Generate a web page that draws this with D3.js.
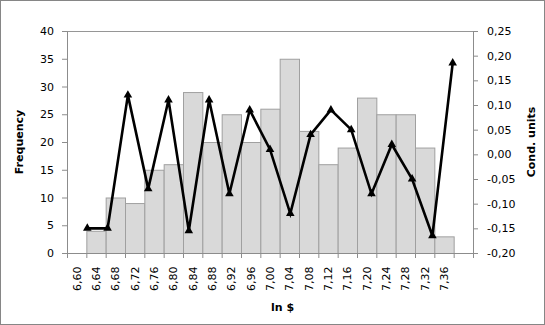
<!DOCTYPE html>
<html>
<head>
<meta charset="utf-8">
<script src="https://cdn.jsdelivr.net/npm/d3@7"></script>
<style>
  body { margin: 0; background: #fff; }
  svg text { font-family: "DejaVu Sans", sans-serif; fill: #000; }
</style>
</head>
<body>
<div id="vis"></div>
<script>
// categories on the x axis (the last slot has no label)
const categories = ["6,60","6,64","6,68","6,72","6,76","6,80","6,84","6,88","6,92","6,96",
                    "7,00","7,04","7,08","7,12","7,16","7,20","7,24","7,28","7,32","7,36",""];
// histogram frequencies
const frequency = [0,4,10,9,15,16,29,20,25,20,26,35,22,16,19,28,25,25,19,3,0];
// line series (cond. units), 19 points
const condUnits = [-0.15,-0.15,0.12,-0.07,0.11,-0.155,0.11,-0.08,0.09,0.01,
                   -0.12,0.04,0.09,0.05,-0.08,0.02,-0.05,-0.165,0.185];
const leftTicks = [0,5,10,15,20,25,30,35,40];
const rightTicks = [-0.20,-0.15,-0.10,-0.05,0.00,0.05,0.10,0.15,0.20,0.25];

const W = 545, H = 325;
const margin = {top: 31, right: 72, bottom: 72, left: 67},
    width = W - margin.left - margin.right,
    height = H - margin.top - margin.bottom;

const svg = d3.select("#vis").append("svg")
    .attr("width", W)
    .attr("height", H);

// outer chart border
svg.append("rect")
    .attr("x", 0.5).attr("y", 0.5)
    .attr("width", W - 1).attr("height", H - 1)
    .attr("fill", "#fff")
    .attr("stroke", "#868686");

const g = svg.append("g")
    .attr("transform", "translate(" + margin.left + "," + margin.top + ")");

// scales
const x = d3.scaleBand()
    .domain(d3.range(categories.length))
    .range([0, width])
    .padding(0);
const xEdge = d3.scaleLinear().domain([0, categories.length]).range([0, width]);
// the line sits on its own category axis (21 points, ends empty)
const x2 = d3.scalePoint()
    .domain(d3.range(condUnits.length + 2))
    .range([0, width]);

const y = d3.scaleLinear().domain([0, 40]).range([height, 0]);
const y2 = d3.scaleLinear().domain([-0.2, 0.25]).range([height, 0]);

const loc = d3.formatLocale({decimal: ",", thousands: " ", grouping: [3], currency: ["", ""], minus: "-"});
const fmt2 = loc.format(".2f");

// top border of plot area
g.append("line")
    .attr("x1", 0).attr("x2", width)
    .attr("y1", 0.5).attr("y2", 0.5)
    .attr("stroke", "#969696");

// bars
g.selectAll(".bar")
    .data(frequency.map((v, i) => ({i: i, v: v})).filter(d => d.v > 0))
  .enter().append("rect")
    .attr("class", "bar")
    .attr("x", d => x(d.i) + 0.5)
    .attr("width", x.bandwidth())
    .attr("y", d => y(d.v) + 0.5)
    .attr("height", d => height - y(d.v))
    .attr("fill", "#d9d9d9")
    .attr("stroke", "#a0a0a0")
    .attr("stroke-width", 1);

// left axis
const axL = g.append("g")
    .call(d3.axisLeft(y).tickValues(leftTicks).tickSize(5).tickPadding(8));
axL.selectAll("text").style("font-size", "11px");

// right axis
const axR = g.append("g")
    .attr("transform", "translate(" + width + ",0)")
    .call(d3.axisRight(y2).tickValues(rightTicks).tickSize(5).tickPadding(9).tickFormat(fmt2));
axR.selectAll("text").style("font-size", "11px");

// bottom axis: ticks at category edges, labels at centres
const axB = g.append("g")
    .attr("transform", "translate(0," + height + ")")
    .call(d3.axisBottom(xEdge).tickValues(d3.range(categories.length + 1)).tickSize(5).tickFormat(""));

g.append("g")
    .selectAll("text")
    .data(categories)
  .enter().append("text")
    .attr("transform", (d, i) => "translate(" + (x(i) + x.bandwidth() / 2) + "," + (height + 13.5) + ") rotate(-90)")
    .attr("text-anchor", "end")
    .attr("dy", "0.35em")
    .style("font-size", "11px")
    .text(d => d);

[axL, axR, axB].forEach(a => {
    a.select(".domain").attr("stroke", "#8c8c8c");
    a.selectAll(".tick line").attr("stroke", "#8c8c8c");
});

// line series
const line = d3.line()
    .x((d, i) => x2(i + 1))
    .y(d => y2(d));

g.append("path")
    .datum(condUnits)
    .attr("fill", "none")
    .attr("stroke", "#000")
    .attr("stroke-width", 2.6)
    .attr("stroke-linejoin", "miter")
    .attr("d", line);

g.selectAll(".marker")
    .data(condUnits)
  .enter().append("path")
    .attr("class", "marker")
    .attr("transform", (d, i) => "translate(" + x2(i + 1) + "," + y2(d) + ")")
    .attr("d", d3.symbol().type(d3.symbolTriangle).size(32))
    .attr("fill", "#000");

// axis titles
svg.append("text")
    .attr("transform", "translate(19," + (margin.top + height / 2) + ") rotate(-90)")
    .attr("text-anchor", "middle")
    .attr("dy", "0.35em")
    .style("font-size", "11px")
    .style("font-weight", "bold")
    .text("Frequency");

svg.append("text")
    .attr("transform", "translate(531," + (margin.top + height / 2) + ") rotate(-90)")
    .attr("text-anchor", "middle")
    .attr("dy", "0.35em")
    .style("font-size", "11px")
    .style("font-weight", "bold")
    .text("Cond. units");

svg.append("text")
    .attr("x", 282.5)
    .attr("y", 311)
    .attr("text-anchor", "middle")
    .style("font-size", "11px")
    .style("font-weight", "bold")
    .text("ln $");
</script>
</body>
</html>
